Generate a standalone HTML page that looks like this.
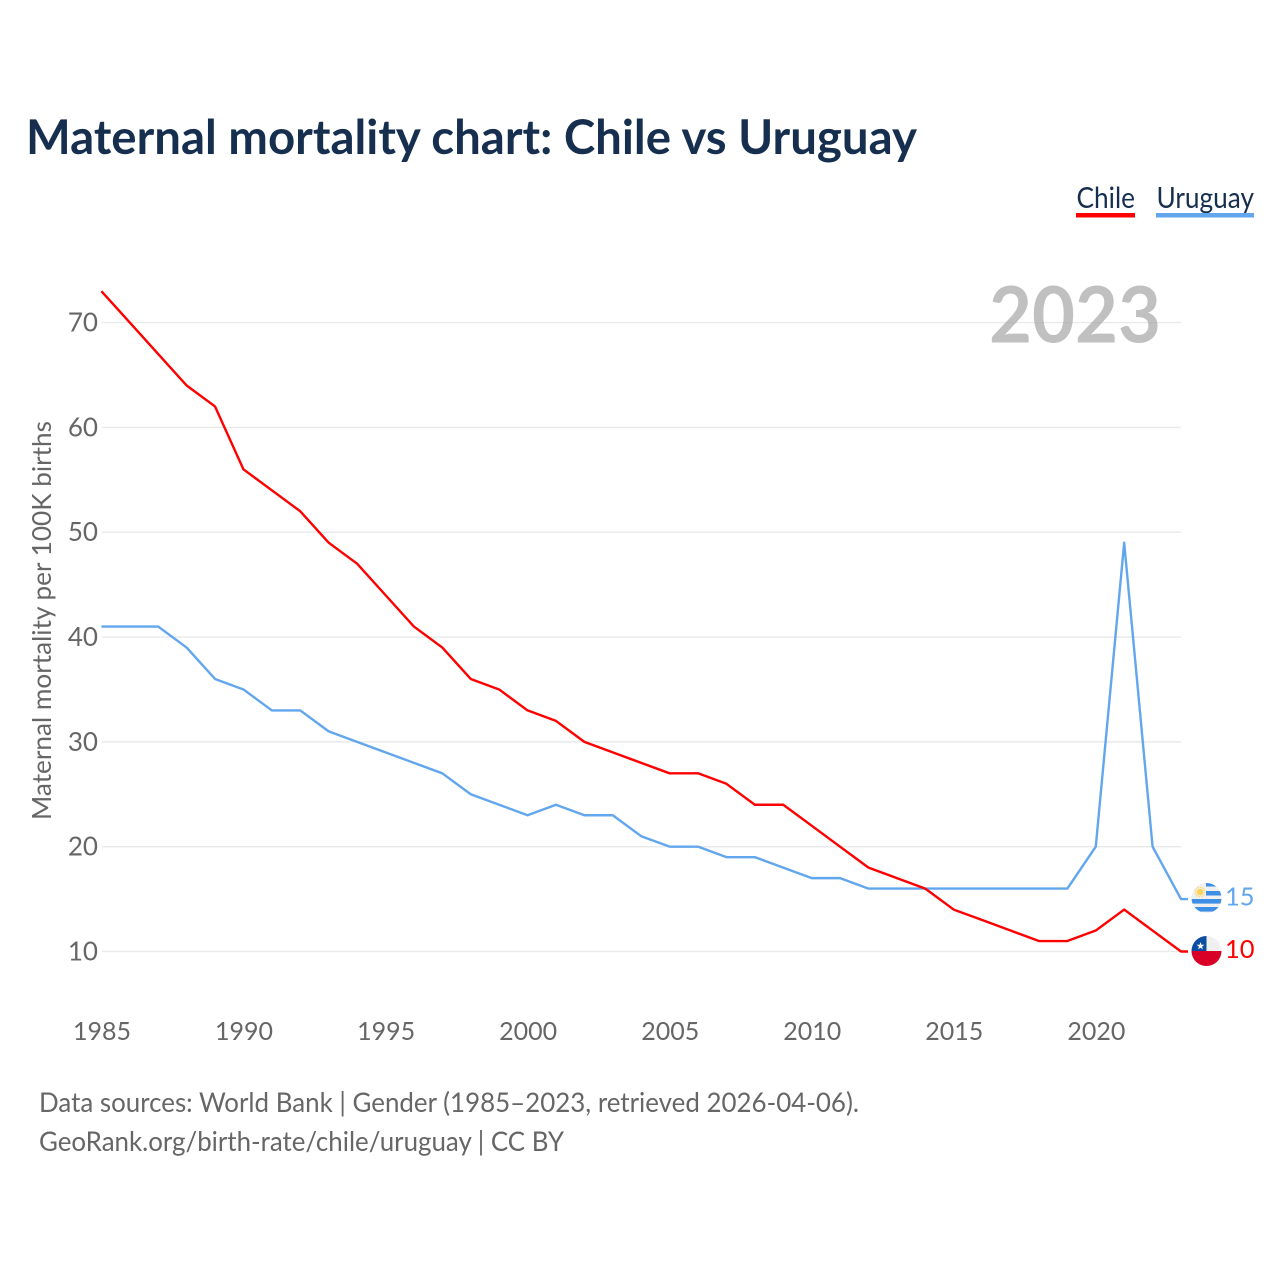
<!DOCTYPE html>
<html lang="en">
<head>
<meta charset="utf-8">
<title>Maternal mortality chart: Chile vs Uruguay</title>
<style>
html,body{margin:0;padding:0;background:#fff;width:1280px;height:1280px;overflow:hidden}
svg{display:block}
text{font-family:"Lato","Carlito","Liberation Sans",sans-serif}
</style>
</head>
<body>
<svg id="chart" xmlns="http://www.w3.org/2000/svg" width="1280" height="1280" viewBox="0 0 1280 1280">
  <rect width="1280" height="1280" fill="#fff"/>
  <text x="26" y="154" font-size="48" font-weight="700" fill="#172f4f" textLength="891" lengthAdjust="spacingAndGlyphs">Maternal mortality chart: Chile vs Uruguay</text>

  <g>
    <g>
      <text x="1076.5" y="208" font-size="29" fill="#172f4f" textLength="58.5" lengthAdjust="spacingAndGlyphs">Chile</text>
      <rect x="1076" y="213" width="59" height="4.5" fill="#ff0000"/>
    </g>
    <g>
      <text x="1156.5" y="208" font-size="29" fill="#172f4f" textLength="97.5" lengthAdjust="spacingAndGlyphs">Uruguay</text>
      <rect x="1156" y="213" width="98" height="4.5" fill="#62a6ee"/>
    </g>
  </g>

  <g id="grid"></g>
  <text x="1075" y="342.5" font-size="78" font-weight="700" fill="#a8a8a8" fill-opacity="0.72" text-anchor="middle" textLength="172" lengthAdjust="spacingAndGlyphs">2023</text>
  <g id="yticks"></g>
  <g id="xticks"></g>
  <text transform="translate(51 620.5) rotate(-90)" font-size="26" fill="#666666" text-anchor="middle" textLength="399" lengthAdjust="spacingAndGlyphs">Maternal mortality per 100K births</text>
  <g id="series"></g>

  <g id="flag-uruguay">
    <clipPath id="clip-uy"><circle cx="1206.5" cy="898" r="15"/></clipPath>
    <g clip-path="url(#clip-uy)">
      <rect x="1191" y="883" width="31" height="31" fill="#f0f0f0"/>
      <rect x="1206" y="883" width="16" height="3.5" fill="#3d8fe6"/>
      <rect x="1206" y="891" width="16" height="4.5" fill="#3d8fe6"/>
      <rect x="1191" y="899" width="31" height="4.6" fill="#3d8fe6"/>
      <rect x="1191" y="907" width="31" height="4.6" fill="#3d8fe6"/>
      <circle cx="1200" cy="892" r="3.4" fill="#ffd45a"/>
      <circle cx="1200" cy="892" r="4.8" fill="none" stroke="#ffd45a" stroke-width="1.2" stroke-dasharray="1.3 1.2"/>
    </g>
  </g>
  <g id="flag-chile">
    <clipPath id="clip-cl"><circle cx="1206.5" cy="951" r="15"/></clipPath>
    <g clip-path="url(#clip-cl)">
      <rect x="1191" y="936" width="31" height="16" fill="#f0f0f0"/>
      <rect x="1191" y="936" width="15.5" height="15" fill="#0b4ea2"/>
      <rect x="1191" y="951" width="31" height="16" fill="#d80027"/>
      <polygon points="1200.5,942 1201.5,944.7 1204.4,944.8 1202.1,946.6 1202.9,949.4 1200.5,947.8 1198.1,949.4 1198.9,946.6 1196.6,944.8 1199.5,944.7" fill="#f4f4f4"/>
    </g>
  </g>

  <g>
    <text x="39" y="1112" font-size="27" fill="#666666" textLength="820" lengthAdjust="spacingAndGlyphs">Data sources: World Bank | Gender (1985–2023, retrieved 2026-04-06).</text>
    <text x="39" y="1151" font-size="27" fill="#666666" textLength="525" lengthAdjust="spacingAndGlyphs">GeoRank.org/birth-rate/chile/uruguay | CC BY</text>
  </g>
</svg>
<script>
const years = [1985,1986,1987,1988,1989,1990,1991,1992,1993,1994,1995,1996,1997,1998,1999,2000,2001,2002,2003,2004,2005,2006,2007,2008,2009,2010,2011,2012,2013,2014,2015,2016,2017,2018,2019,2020,2021,2022,2023];
const chileValues = [73,70,67,64,62,56,54,52,49,47,44,41,39,36,35,33,32,30,29,28,27,27,26,24,24,22,20,18,17,16,14,13,12,11,11,12,14,12,10];
const uruguayValues = [41,41,41,39,36,35,33,33,31,30,29,28,27,25,24,23,24,23,23,21,20,20,19,19,18,17,17,16,16,16,16,16,16,16,16,20,49,20,15];
const yTickValues = [10,20,30,40,50,60,70];
const xTickValues = [1985,1990,1995,2000,2005,2010,2015,2020];

const NS = 'http://www.w3.org/2000/svg';
const xScale = function (year) { return 101.4 + (year - 1985) * (1181 - 101.4) / 38; };
const yScale = function (value) { return 951.5 - (value - 10) * (951.5 - 322.6) / 60; };
function make(tag, attrs, parent, content) {
  const el = document.createElementNS(NS, tag);
  Object.keys(attrs).forEach(function (k) { el.setAttribute(k, attrs[k]); });
  if (content !== undefined) el.textContent = content;
  parent.appendChild(el);
  return el;
}

const gridGroup = document.getElementById('grid');
const yTickGroup = document.getElementById('yticks');
yTickValues.forEach(function (v) {
  const line = make('line', { x1: 102, x2: 1181, y1: yScale(v), y2: yScale(v), stroke: '#e9e9e9', 'stroke-width': 1.4 }, gridGroup);
  
  
  const label = make('text', { x: 98, y: yScale(v) + 9, 'font-size': 26, fill: '#666666', 'text-anchor': 'end' }, yTickGroup, String(v));
  
  
});

const xTickGroup = document.getElementById('xticks');
xTickValues.forEach(function (y) {
  const label = make('text', { x: xScale(y) + 0.6, y: 1040, 'font-size': 25, fill: '#666666', 'text-anchor': 'middle' }, xTickGroup, String(y));
  
  
});

const seriesGroup = document.getElementById('series');
function drawSeries(values, color, key) {
  const pts = values.map(function (v, i) { return xScale(years[i]) + ',' + yScale(v); });
  const lastValue = values[values.length - 1];
  const lastX = xScale(years[years.length - 1]);
  pts.push((lastX + 7) + ',' + yScale(lastValue));
  const line = make('polyline', { points: pts.join(' '), fill: 'none', stroke: color, 'stroke-width': 2.4, 'stroke-linejoin': 'round' }, seriesGroup);
  
  
  const label = make('text', { x: 1225, y: yScale(lastValue) + 6.5, 'font-size': 25.5, fill: color }, seriesGroup, String(lastValue));
  
  
}
drawSeries(uruguayValues, '#62a6ee', 'uruguay');
drawSeries(chileValues, '#ff0000', 'chile');
</script>
</body>
</html>
